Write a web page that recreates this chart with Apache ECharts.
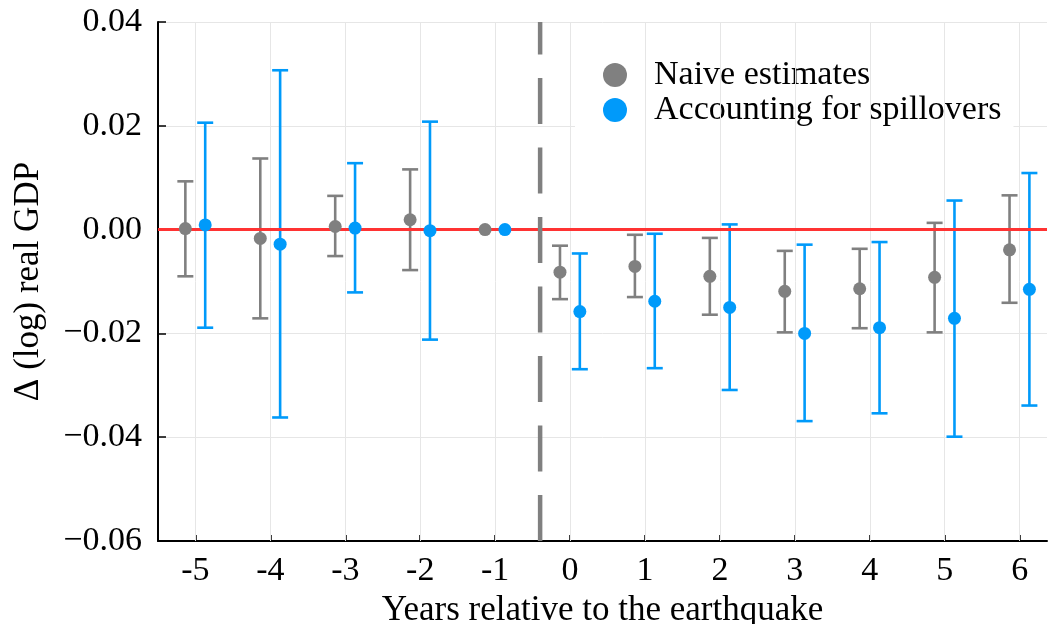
<!DOCTYPE html>
<html>
<head>
<meta charset="utf-8">
<script src="https://cdn.jsdelivr.net/npm/echarts@6/dist/echarts.min.js"></script>
<style>
html,body{margin:0;padding:0;background:#fff;}
#chart{width:1049px;height:624px;}
</style>
</head>
<body>
<div id="chart"></div>
<script>
const years = [-5, -4, -3, -2, -1, 0, 1, 2, 3, 4, 5, 6];
const yTicks = [-0.06, -0.04, -0.02, 0.00, 0.02, 0.04];

const naiveEst = [0.0002, -0.0017, 0.0006, 0.0019, 0, -0.0082, -0.0071, -0.0090, -0.0119, -0.0114, -0.0092, -0.0039];
const naiveLo  = [-0.0090, -0.0171, -0.0051, -0.0078, null, -0.0134, -0.0130, -0.0164, -0.0198, -0.0190, -0.0198, -0.0141];
const naiveHi  = [0.0093, 0.0137, 0.0065, 0.0116, null, -0.0031, -0.0010, -0.0016, -0.0041, -0.0037, 0.0013, 0.0066];

const spillEst = [0.0009, -0.0028, 0.0003, -0.0002, 0, -0.0158, -0.0138, -0.0150, -0.0200, -0.0189, -0.0171, -0.0115];
const spillLo  = [-0.0189, -0.0362, -0.0121, -0.0212, null, -0.0269, -0.0267, -0.0309, -0.0369, -0.0354, -0.0399, -0.0339];
const spillHi  = [0.0206, 0.0307, 0.0128, 0.0208, null, -0.0046, -0.0008, 0.0010, -0.0029, -0.0024, 0.0056, 0.0109];

const eventLine = -0.4;
const naiveOffset = -0.135;
const spillOffset = 0.13;

const GRAY = '#808080';
const BLUE = '#009afa';
const FONT = '"Liberation Serif", "DejaVu Serif", serif';

function errData(off, lo, hi) {
  const out = [];
  years.forEach((y, i) => { if (lo[i] != null) out.push([y + off, lo[i], hi[i]]); });
  return out;
}
function ptData(off, est) {
  return years.map((y, i) => [y + off, est[i]]);
}
function errRender(color) {
  return function (params, api) {
    const x = api.value(0);
    const lo = api.coord([x, api.value(1)]);
    const hi = api.coord([x, api.value(2)]);
    const w = 8;
    const style = { stroke: color, lineWidth: 2.6 };
    return {
      type: 'group',
      children: [
        { type: 'line', shape: { x1: lo[0], y1: lo[1], x2: hi[0], y2: hi[1] }, style },
        { type: 'line', shape: { x1: lo[0] - w, y1: lo[1], x2: lo[0] + w, y2: lo[1] }, style },
        { type: 'line', shape: { x1: hi[0] - w, y1: hi[1], x2: hi[0] + w, y2: hi[1] }, style }
      ]
    };
  };
}
function fmtY(v) {
  const s = Math.abs(v).toFixed(2);
  return v < -1e-9 ? '\u2212' + s : s;
}

const chart = echarts.init(document.getElementById('chart'), null, { renderer: 'canvas' });
const option = {
  animation: false,
  backgroundColor: '#ffffff',
  grid: { left: 158, right: 2, top: 22, bottom: 83, containLabel: false, outerBoundsMode: 'none' },
  xAxis: {
    type: 'value',
    min: -5.5,
    max: 6.365,
    name: 'Years relative to the earthquake',
    nameLocation: 'middle',
    nameGap: 46,
    nameTextStyle: { fontFamily: FONT, fontSize: 35, color: '#000' },
    axisLine: { show: true, onZero: false, lineStyle: { color: '#000', width: 2 } },
    axisTick: { show: true, inside: true, length: 6, customValues: years, lineStyle: { color: '#000', width: 1.5 } },
    axisLabel: { customValues: years, formatter: v => String(v), fontFamily: FONT, fontSize: 34, color: '#000', margin: 13 },
    splitLine: { show: false }
  },
  yAxis: {
    type: 'value',
    min: -0.06,
    max: 0.04,
    interval: 0.02,
    name: 'Δ (log) real GDP',
    nameLocation: 'middle',
    nameGap: 112,
    nameRotate: 90,
    nameTextStyle: { fontFamily: FONT, fontSize: 35, color: '#000' },
    axisLine: { show: true, onZero: false, lineStyle: { color: '#000', width: 2 } },
    axisTick: { show: true, inside: true, length: 8, lineStyle: { color: '#000', width: 1.5 } },
    axisLabel: { formatter: fmtY, fontFamily: FONT, fontSize: 34, color: '#000', margin: 16 },
    splitLine: { show: true, lineStyle: { color: '#e6e6e6', width: 1 } }
  },
  legend: {
    data: [
      { name: 'Naive estimates', icon: 'circle', itemStyle: { color: GRAY, opacity: 1 } },
      { name: 'Accounting for spillovers', icon: 'circle', itemStyle: { color: BLUE, opacity: 1 } }
    ],
    orient: 'vertical',
    left: 575,
    top: 40,
    padding: [18, 12, 14, 28],
    itemWidth: 24,
    itemHeight: 24,
    itemGap: 1,
    backgroundColor: '#ffffff',
    textStyle: { fontFamily: FONT, fontSize: 34, lineHeight: 33, color: '#000', padding: [0, 0, 0, 22] }
  },
  series: [
    {
      type: 'line',
      name: 'gridX',
      data: [],
      silent: true,
      z: 1,
      markLine: {
        silent: true,
        symbol: 'none',
        label: { show: false },
        lineStyle: { color: '#e6e6e6', width: 1, type: 'solid' },
        data: years.map(y => ({ xAxis: y }))
      }
    },
    {
      type: 'custom',
      name: 'naiveErr',
      renderItem: errRender(GRAY),
      data: errData(naiveOffset, naiveLo, naiveHi),
      encode: { x: 0, y: [1, 2] },
      z: 3
    },
    {
      type: 'custom',
      name: 'spillErr',
      renderItem: errRender(BLUE),
      data: errData(spillOffset, spillLo, spillHi),
      encode: { x: 0, y: [1, 2] },
      z: 3
    },
    {
      type: 'line',
      name: 'zero',
      data: [],
      silent: true,
      z: 4,
      markLine: {
        silent: true,
        symbol: 'none',
        label: { show: false },
        lineStyle: { color: '#ff3333', width: 3, type: 'solid' },
        data: [{ yAxis: 0 }]
      }
    },
    {
      type: 'scatter',
      name: 'Naive estimates',
      data: ptData(naiveOffset, naiveEst),
      symbol: 'circle',
      symbolSize: 13,
      itemStyle: { color: GRAY, opacity: 1 },
      z: 5
    },
    {
      type: 'scatter',
      name: 'Accounting for spillovers',
      data: ptData(spillOffset, spillEst),
      symbol: 'circle',
      symbolSize: 13,
      itemStyle: { color: BLUE, opacity: 1 },
      z: 5
    },
    {
      type: 'line',
      name: 'event',
      data: [[eventLine, -0.06], [eventLine, 0.04]],
      showSymbol: false,
      symbol: 'none',
      silent: true,
      lineStyle: { color: GRAY, width: 4.5, type: [46, 23.5], cap: 'butt' },
      z: 6
    }
  ]
};
chart.setOption(option);
</script>
</body>
</html>
